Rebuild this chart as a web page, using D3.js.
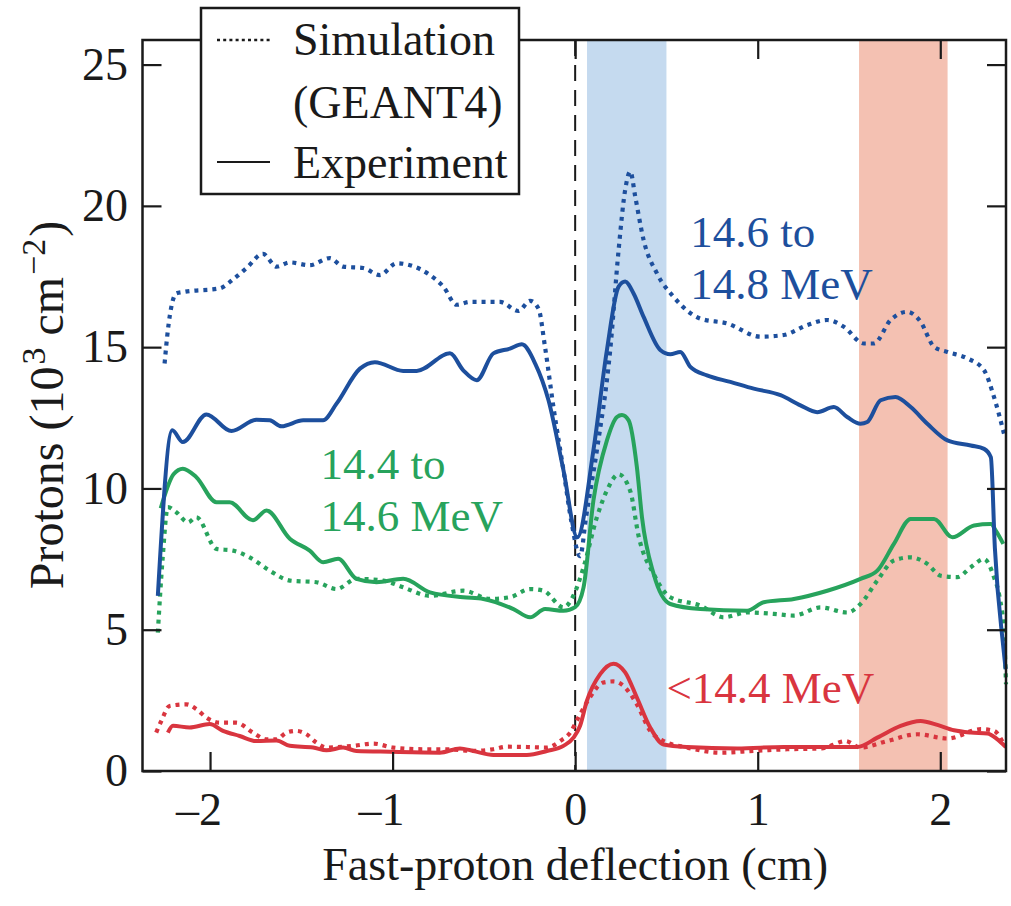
<!DOCTYPE html>
<html>
<head>
<meta charset="utf-8">
<script src="https://cdn.jsdelivr.net/npm/d3@7"></script>
<style>
  html, body { margin: 0; padding: 0; background: #fff; }
  svg { display: block; }
</style>
</head>
<body>
<svg id="chart" width="1011" height="906"></svg>
<script>
// Proton fluence vs. fast-proton deflection, three energy bins,
// GEANT4 simulation (dotted) and measurement (solid). Points are [deflection cm, 10^3 protons/cm^2].

const xTicks = [-2, -1, 0, 1, 2];
const yTicks = [0, 5, 10, 15, 20, 25];

// shaded deflection windows (cm)
const bandBlue = [0.065, 0.5];
const bandRed = [1.555, 2.04];

// 14.6 to 14.8 MeV
const highSim = [[-2.249,14.42],[-2.231,15.6],[-2.185,16.9],[-2.139,16.96],[-1.947,17.08],[-1.874,17.4],[-1.80,17.8],[-1.71,18.3],[-1.636,17.85],[-1.563,18.0],[-1.454,17.9],[-1.344,18.15],[-1.271,17.85],[-1.161,17.8],[-1.07,17.55],[-0.978,17.97],[-0.905,17.9],[-0.795,17.55],[-0.722,17.14],[-0.649,16.5],[-0.576,16.6],[-0.411,16.6],[-0.311,16.28],[-0.247,16.64],[-0.201,16.37],[-0.165,15.0],[-0.119,12.88],[-0.064,10.64],[-0.02,8.8],[0.027,7.6],[0.06,9.0],[0.119,11.35],[0.192,14.9],[0.238,18.44],[0.274,20.57],[0.302,21.22],[0.329,20.33],[0.375,18.79],[0.448,17.61],[0.539,16.78],[0.686,16.01],[0.832,15.84],[1.015,15.37],[1.143,15.43],[1.271,15.78],[1.381,15.96],[1.472,15.72],[1.581,15.13],[1.636,15.13],[1.728,15.96],[1.819,16.25],[1.892,15.9],[1.966,15.01],[2.039,14.83],[2.149,14.6],[2.24,14.18],[2.294,13.24],[2.349,11.94]];
const highExp = [[-2.286,6.2],[-2.207,12.06],[-2.149,11.64],[-2.02,12.62],[-1.883,12.03],[-1.746,12.43],[-1.673,12.41],[-1.609,12.2],[-1.49,12.41],[-1.381,12.41],[-1.307,13.0],[-1.179,14.24],[-1.097,14.47],[-0.942,14.16],[-0.868,14.16],[-0.686,14.78],[-0.613,14.18],[-0.539,13.83],[-0.448,14.78],[-0.357,14.95],[-0.292,15.1],[-0.219,14.42],[-0.146,13.12],[-0.064,10.64],[0.012,8.27],[0.1,11.35],[0.174,14.9],[0.238,17.14],[0.274,17.32],[0.32,16.9],[0.375,16.07],[0.466,14.9],[0.521,14.75],[0.576,14.83],[0.631,14.3],[0.722,14.0],[0.85,13.77],[0.978,13.53],[1.125,13.3],[1.234,12.94],[1.326,12.7],[1.417,12.88],[1.49,12.53],[1.563,12.29],[1.6,12.35],[1.673,13.12],[1.755,13.24],[1.838,12.88],[1.929,12.29],[2.039,11.7],[2.167,11.52],[2.24,11.4],[2.277,11.1],[2.299,7.9],[2.345,4.4],[2.358,3.6]];

// 14.4 to 14.6 MeV
const midSim = [[-2.286,4.9],[-2.26,7.5],[-2.231,9.34],[-2.185,9.16],[-2.121,8.8],[-2.075,8.98],[-1.965,7.86],[-1.874,7.8],[-1.783,7.56],[-1.673,7.09],[-1.563,6.74],[-1.417,6.68],[-1.307,6.44],[-1.198,6.8],[-1.052,6.74],[-0.942,6.5],[-0.795,6.2],[-0.613,6.38],[-0.466,6.09],[-0.357,6.15],[-0.247,6.44],[-0.174,6.38],[-0.064,5.79],[-0.01,6.2],[0.046,7.21],[0.119,8.98],[0.174,9.93],[0.238,10.5],[0.302,9.9],[0.348,8.3],[0.43,6.97],[0.521,6.15],[0.686,5.85],[0.814,5.44],[0.942,5.61],[1.088,5.56],[1.198,5.5],[1.344,5.79],[1.49,5.61],[1.563,5.91],[1.655,6.74],[1.746,7.45],[1.838,7.56],[1.929,7.33],[2.002,6.91],[2.094,6.86],[2.167,7.21],[2.24,7.5],[2.294,6.86],[2.325,6.15],[2.349,4.9],[2.36,3.07]];
const midExp = [[-2.27,9.3],[-2.2,10.5],[-2.149,10.7],[-2.075,10.4],[-1.965,9.51],[-1.893,9.51],[-1.765,8.87],[-1.691,9.22],[-1.563,8.22],[-1.454,7.8],[-1.381,7.39],[-1.298,7.51],[-1.198,6.8],[-1.088,6.68],[-0.942,6.8],[-0.795,6.32],[-0.613,6.15],[-0.503,6.09],[-0.338,5.73],[-0.247,5.44],[-0.165,5.73],[-0.064,5.67],[0.0,5.8],[0.046,6.5],[0.1,9.57],[0.174,11.7],[0.229,12.53],[0.256,12.6],[0.293,12.41],[0.338,10.76],[0.366,8.98],[0.43,6.97],[0.521,5.91],[0.686,5.73],[0.942,5.67],[1.033,5.97],[1.198,6.09],[1.381,6.38],[1.563,6.8],[1.655,7.09],[1.746,8.04],[1.838,8.92],[1.966,8.92],[2.066,8.27],[2.185,8.69],[2.277,8.74],[2.305,8.5],[2.345,8.04]];

// below 14.4 MeV
const lowSim = [[-2.295,1.36],[-2.267,1.77],[-2.222,2.3],[-2.13,2.36],[-2.075,2.19],[-2.02,1.89],[-1.947,1.71],[-1.856,1.71],[-1.765,1.36],[-1.691,1.12],[-1.636,1.12],[-1.581,1.36],[-1.527,1.42],[-1.472,1.3],[-1.417,1.0],[-1.362,0.83],[-1.216,0.89],[-1.106,0.97],[-0.997,0.83],[-0.832,0.77],[-0.704,0.77],[-0.558,0.71],[-0.448,0.77],[-0.375,0.86],[-0.265,0.85],[-0.155,0.83],[-0.082,1.06],[-0.027,1.36],[0.018,1.89],[0.08,2.6],[0.155,3.13],[0.21,3.17],[0.265,3.01],[0.338,2.36],[0.411,1.42],[0.484,1.06],[0.613,0.83],[0.795,0.65],[0.978,0.71],[1.161,0.77],[1.35,0.8],[1.481,1.06],[1.563,0.83],[1.71,1.06],[1.874,1.3],[2.039,1.15],[2.222,1.48],[2.294,1.42],[2.349,0.94]];
const lowExp = [[-2.231,1.36],[-2.203,1.6],[-2.112,1.54],[-2.002,1.66],[-1.929,1.42],[-1.838,1.24],[-1.746,1.06],[-1.636,1.08],[-1.563,0.89],[-1.435,0.83],[-1.362,0.73],[-1.271,0.83],[-1.198,0.71],[-1.015,0.68],[-0.741,0.65],[-0.631,0.8],[-0.558,0.71],[-0.448,0.57],[-0.265,0.57],[-0.155,0.71],[-0.064,0.89],[-0.009,1.18],[0.027,1.6],[0.064,2.48],[0.137,3.43],[0.21,3.8],[0.274,3.49],[0.338,2.6],[0.411,1.54],[0.484,0.94],[0.613,0.85],[0.887,0.8],[1.143,0.85],[1.362,0.85],[1.545,0.85],[1.655,1.18],[1.783,1.6],[1.892,1.77],[1.984,1.63],[2.075,1.44],[2.167,1.36],[2.258,1.33],[2.313,1.12],[2.359,0.85]];

const seriesColors = { high: "#1d4f9d", mid: "#27a35c", low: "#d9353f" };
const binLabels = [
  { lines: ["14.6 to", "14.8 MeV"], color: seriesColors.high, x: 0.63, y: 18.55 },
  { lines: ["14.4 to", "14.6 MeV"], color: seriesColors.mid, x: -1.395, y: 10.35 },
  { lines: ["<14.4 MeV"], color: seriesColors.low, x: 0.5, y: 2.4 }
];
const legendItems = [
  { lines: ["Simulation", "(GEANT4)"], dotted: true },
  { lines: ["Experiment"], dotted: false }
];

const serif = '"Liberation Serif", "Times New Roman", Times, serif';
const svg = d3.select("#chart").attr("font-family", serif);
const plotLeft = 142.5, plotRight = 1006, plotTop = 40, plotBottom = 771;
const x = d3.scaleLinear().domain([-2.37, 2.36]).range([plotLeft, plotRight]);
const y = d3.scaleLinear().domain([0, 25.87]).range([plotBottom, plotTop]);

const ink = "#1a1a1a";
const fontSize = 46;

// shaded windows
svg.append("rect").attr("x", x(bandBlue[0])).attr("y", plotTop)
  .attr("width", x(bandBlue[1]) - x(bandBlue[0])).attr("height", plotBottom - plotTop)
  .attr("fill", "#c5daef");
svg.append("rect").attr("x", x(bandRed[0])).attr("y", plotTop)
  .attr("width", x(bandRed[1]) - x(bandRed[0])).attr("height", plotBottom - plotTop)
  .attr("fill", "#f4c1b2");

// zero-deflection reference
svg.append("line").attr("x1", x(0)).attr("x2", x(0)).attr("y1", plotTop).attr("y2", plotBottom)
  .attr("stroke", ink).attr("stroke-width", 2).attr("stroke-dasharray", "16,9");

const line = d3.line().x(d => x(d[0])).y(d => y(d[1])).curve(d3.curveMonotoneX);
const curves = [
  [lowSim, seriesColors.low, true], [lowExp, seriesColors.low, false],
  [midSim, seriesColors.mid, true], [midExp, seriesColors.mid, false],
  [highSim, seriesColors.high, true], [highExp, seriesColors.high, false]
];
curves.forEach(([data, color, dotted]) => {
  svg.append("path").datum(data).attr("d", line)
    .attr("fill", "none").attr("stroke", color)
    .attr("stroke-width", dotted ? 4.2 : 4)
    .attr("stroke-linejoin", "round")
    .attr("stroke-dasharray", dotted ? "4,5" : null);
});

// axes with inward ticks on all four sides
const tick = 19;
const fmtX = d => (d < 0 ? "\u2013" + Math.abs(d) : String(d));
const gB = svg.append("g").attr("transform", `translate(0,${plotBottom})`)
  .call(d3.axisBottom(x).tickValues(xTicks).tickSize(-tick).tickPadding(21).tickFormat(fmtX));
const gT = svg.append("g").attr("transform", `translate(0,${plotTop})`)
  .call(d3.axisTop(x).tickValues(xTicks).tickSize(-tick).tickFormat(""));
const gL = svg.append("g").attr("transform", `translate(${plotLeft},0)`)
  .call(d3.axisLeft(y).tickValues(yTicks).tickSize(-tick).tickPadding(14.5));
const gR = svg.append("g").attr("transform", `translate(${plotRight},0)`)
  .call(d3.axisRight(y).tickValues(yTicks).tickSize(-tick).tickFormat(""));
[gB, gT, gL, gR].forEach(g => {
  g.attr("font-family", serif).attr("font-size", fontSize);
  g.select(".domain").remove();
  g.selectAll(".tick line").attr("stroke", ink).attr("stroke-width", 2.2);
  g.selectAll("text").attr("fill", ink);
});
gB.selectAll("text").attr("text-anchor", "end").attr("dx", "0.25em");

// frame
svg.append("rect").attr("x", plotLeft).attr("y", plotTop)
  .attr("width", plotRight - plotLeft).attr("height", plotBottom - plotTop)
  .attr("fill", "none").attr("stroke", ink).attr("stroke-width", 2.5);

// axis titles
svg.append("text").attr("x", x(0)).attr("y", 880).attr("text-anchor", "middle")
  .attr("font-family", serif).attr("font-size", fontSize).attr("fill", ink)
  .text("Fast-proton deflection (cm)");

const yt = svg.append("text").attr("transform", "translate(63,405) rotate(-90)")
  .attr("text-anchor", "middle").attr("font-family", serif)
  .attr("font-size", 48).attr("fill", ink);
yt.append("tspan").text("Protons (10");
yt.append("tspan").attr("dy", -18).attr("dx", 2).attr("font-size", 34).text("3");
yt.append("tspan").attr("dy", 18).text(" cm");
yt.append("tspan").attr("dy", -18).attr("dx", 2).attr("font-size", 34).text("\u22122");
yt.append("tspan").attr("dy", 18).attr("dx", 2).text(")");

// energy-bin labels
binLabels.forEach(b => {
  const t = svg.append("text").attr("font-family", serif)
    .attr("font-size", 45).attr("fill", b.color);
  b.lines.forEach((s, i) => {
    t.append("tspan").attr("x", x(b.x)).attr("y", y(b.y) + i * 52).text(s);
  });
});

// legend
const lg = svg.append("g");
lg.append("rect").attr("x", 201).attr("y", 8).attr("width", 318).attr("height", 186)
  .attr("fill", "#fff").attr("stroke", ink).attr("stroke-width", 2.5);
const legendRows = [[40, 55], [162, 178]];
legendItems.forEach((it, i) => {
  const [ly, ty] = legendRows[i];
  lg.append("line").attr("x1", 217).attr("x2", 270).attr("y1", ly).attr("y2", ly)
    .attr("stroke", ink).attr("stroke-width", it.dotted ? 2.6 : 2.2)
    .attr("stroke-dasharray", it.dotted ? "3,3.2" : null);
  const t = lg.append("text").attr("font-family", serif)
    .attr("font-size", fontSize).attr("fill", ink);
  it.lines.forEach((s, j) => {
    t.append("tspan").attr("x", 293).attr("y", ty + j * 63).text(s);
  });
});
</script>
</body>
</html>
